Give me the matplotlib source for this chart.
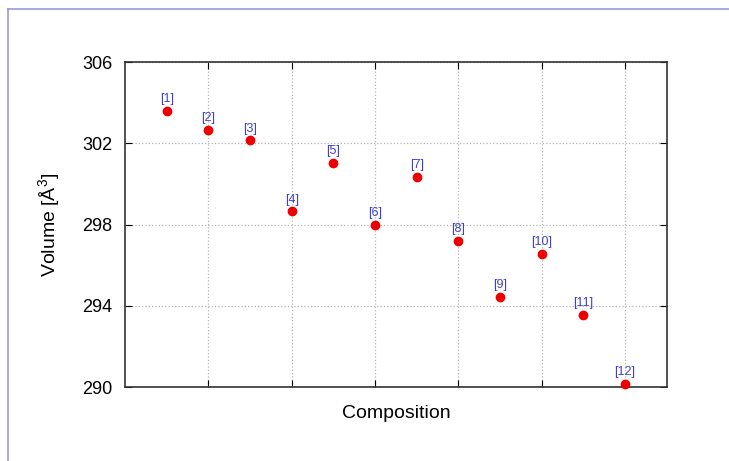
import numpy as np
import matplotlib.pyplot as plt
from matplotlib.lines import Line2D

plt.rcParams['font.family'] = ['Liberation Sans', 'DejaVu Sans']
plt.rcParams['mathtext.fontset'] = 'custom'
plt.rcParams['mathtext.rm'] = 'Liberation Sans'

# data
positions = [1, 2, 3, 4, 5, 6, 7, 8, 9, 10, 11, 12]
volumes = [303.6, 302.65, 302.15, 298.65, 301.05, 298.0, 300.35, 297.2, 294.45, 296.55, 293.55, 290.15]
labels = ["[1]", "[2]", "[3]", "[4]", "[5]", "[6]", "[7]", "[8]", "[9]", "[10]", "[11]", "[12]"]
yticks = [290, 294, 298, 302, 306]
xticks = [2, 4, 6, 8, 10, 12]

fig = plt.figure(figsize=(7.29, 4.61), dpi=100)
ax = fig.add_axes([0.1715, 0.1605, 0.743, 0.705])

ax.plot(positions, volumes, "o", color="#ee0000", ms=6, clip_on=False, zorder=3)
for x, y, s in zip(positions, volumes, labels):
    ax.annotate(s, (x, y), xytext=(0, 4), textcoords="offset points",
                ha="center", va="bottom", color="#4040d0", fontsize=9)

ax.set_xlim(0, 13)
ax.set_ylim(290, 306)
ax.set_xticks(xticks)
ax.set_xticklabels([])
ax.set_yticks(yticks)
ax.tick_params(direction="in", top=True, right=True, length=5, labelsize=13, pad=9)
ax.grid(True, color="#b5b5b5", linestyle=":", linewidth=0.9)
for sp in ax.spines.values():
    sp.set_linewidth(1.2)
    sp.set_color("#333333")

ax.set_xlabel("Composition", fontsize=14, labelpad=4)
ax.set_ylabel("Volume [Å$^3$]", fontsize=14, labelpad=14)

# light blue frame along top and left edge of the figure
fig.add_artist(Line2D([8 / 729, 1.0], [1 - 9 / 461, 1 - 9 / 461], color="#9999dd", lw=1.2, transform=fig.transFigure))
fig.add_artist(Line2D([8 / 729, 8 / 729], [0, 1 - 9 / 461], color="#9999dd", lw=1.2, transform=fig.transFigure))

fig.savefig("out.png", dpi=100)
